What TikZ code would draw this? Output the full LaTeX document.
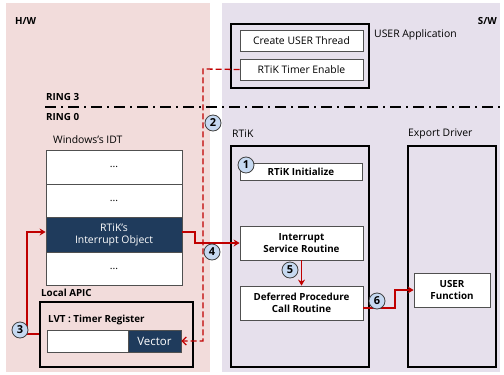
\documentclass[tikz,border=0pt]{standalone}
\usepackage{fontspec}
\setmainfont{Open Sans}
\usetikzlibrary{arrows.meta}
\definecolor{pinkbg}{HTML}{F2DCDB}
\definecolor{lavbg}{HTML}{E6E0EC}
\definecolor{navy}{HTML}{1F3B5C}
\definecolor{redline}{HTML}{C00000}
\definecolor{circfill}{HTML}{C6D9F1}
\definecolor{thinborder}{HTML}{505050}
\tikzset{
  every node/.style={font=\fontsize{10.4}{12}\selectfont, inner sep=0pt},
  outerbox/.style={draw=black, line width=1.4pt, fill=none},
  innerbox/.style={draw=thinborder, line width=0.8pt, fill=white, align=center},
  navybox/.style={draw=thinborder, line width=0.8pt, fill=navy, text=white, align=center},
  lbl/.style={anchor=west},
  blbl/.style={anchor=west, font=\fontsize{9.8}{11.5}\selectfont\bfseries},
  bbox/.style={innerbox, font=\fontsize{9.8}{11.5}\selectfont\bfseries},
  stepnum/.style={circle, draw=black!75, line width=0.8pt, fill=circfill, minimum size=16pt, font=\fontsize{11}{12}\selectfont\bfseries},
  redarrow/.style={draw=redline, line width=1.3pt, -{Stealth[length=6pt,width=7pt]}},
  reddash/.style={draw=redline, line width=1.3pt, dash pattern=on 6pt off 3pt, -{Straight Barb[length=4pt,width=8pt]}},
}
\begin{document}
\begin{tikzpicture}[x=1pt,y=-1pt]
\useasboundingbox (0,0) rectangle (504,375);
\fill[white] (0,0) rectangle (504,375);
% panels
\fill[pinkbg] (6,3) rectangle (210,372);
\fill[lavbg] (222,3) rectangle (500,372);
\node[blbl] (hw) at (15,21) {H/W};
\node[blbl,anchor=east] (sw) at (497,21) {S/W};
% USER application
\node[outerbox, minimum width=138pt, minimum height=64pt] (uapp) at (300,56) {};
\node[lbl] (uapplbl) at (374,35) {USER Application};
\node[innerbox, minimum width=123pt, minimum height=21pt] (cut) at (301.5,40.5) {Create USER Thread};
\node[innerbox, minimum width=123pt, minimum height=21pt] (rte) at (301.5,69.5) {RTiK Timer Enable};
% ring line
\coordinate (ringL) at (45,107);
\coordinate (ringR) at (504,107);
\draw[line width=1.4pt, dash pattern=on 11pt off 5pt on 2pt off 5pt] (ringL) -- (ringR);
\node[blbl] (r3) at (46,97) {RING 3};
\node[blbl] (r0) at (46,117) {RING 0};
% IDT
\node[lbl] (idtlbl) at (53,140) {Windows's IDT};
\node[innerbox, minimum width=136pt, minimum height=34pt] (row1) at (114,167) {...};
\node[innerbox, minimum width=136pt, minimum height=33pt] (row2) at (114,200.5) {...};
\node[navybox, minimum width=136pt, minimum height=35pt] (obj) at (114,234.5) {RTiK's\\Interrupt Object};
\node[innerbox, minimum width=136pt, minimum height=33pt] (row4) at (114,268.5) {...};
% Local APIC
\node[blbl] (apiclbl) at (41,293) {Local APIC};
\node[outerbox, minimum width=153pt, minimum height=65pt] (apic) at (116.5,334.5) {};
\node[blbl] (lvt) at (48,320) {LVT : Timer Register};
\node[innerbox, minimum width=81pt, minimum height=22pt] (lvtw) at (87.5,341) {};
\node[navybox, minimum width=53pt, minimum height=22pt, font=\fontsize{11.5}{12}\selectfont] (vec) at (154.5,341) {Vector};
% RTiK
\node[lbl] (rtiklbl) at (232,134) {RTiK};
\node[outerbox, minimum width=138pt, minimum height=221pt] (rtik) at (300,256.5) {};
\node[bbox, minimum width=122pt, minimum height=17pt] (init) at (301,171.5) {RTiK Initialize};
\node[bbox, minimum width=123pt, minimum height=34pt] (isr) at (301.5,243) {Interrupt\\Service Routine};
\node[bbox, minimum width=123pt, minimum height=34pt] (dpc) at (301.5,303) {Deferred Procedure\\Call Routine};
% Export driver
\node[lbl] (exlbl) at (408,134) {Export Driver};
\node[outerbox, minimum width=88pt, minimum height=221pt] (ex) at (452,256.5) {};
\node[bbox, minimum width=76pt, minimum height=34pt] (uf) at (452,290) {USER\\Function};
% connectors
\coordinate (d1) at (203,69);
\coordinate (d2) at (203,341);
\draw[reddash] (rte.west) -- (d1) -- (d2) -- (vec.east);
\coordinate (c3a) at (27,334);
\coordinate (c3b) at (27,232);
\draw[redarrow] (apic.west |- c3a) -- (c3a) -- (c3b) -- (obj.west |- c3b);
\coordinate (c4a) at (195,232);
\coordinate (c4b) at (195,243);
\draw[redarrow] (obj.east |- c4a) -- (c4a) -- (c4b) -- (isr.west);
\draw[redarrow] (isr.south) -- (dpc.north);
\coordinate (c6s) at (363,308);
\coordinate (c6a) at (395,308);
\coordinate (c6b) at (395,290);
\draw[redarrow] (c6s) -- (c6a) -- (c6b) -- (uf.west);
% step numbers
\node[stepnum] (n1) at (246,165) {1};
\node[stepnum] (n2) at (213,123) {2};
\node[stepnum] (n3) at (20,330) {3};
\node[stepnum] (n4) at (212,252) {4};
\node[stepnum] (n5) at (290,270) {5};
\node[stepnum] (n6) at (377,301) {6};
\end{tikzpicture}
\end{document}
